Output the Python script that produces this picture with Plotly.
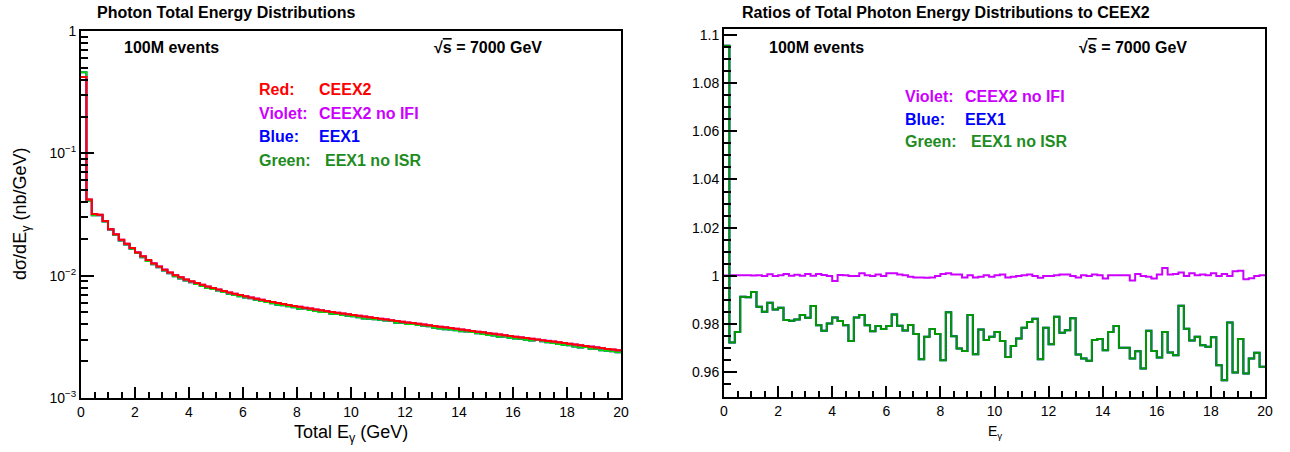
import numpy as np
import plotly.graph_objects as go

# ---------------- data ----------------
bin_lo, bin_hi, n_bins = 0.0, 20.0, 100

# CEEX2 total photon energy distribution dsigma/dE (nb/GeV), per 0.2 GeV bin
red_ceex2 = [
    0.420, 0.0420, 0.0319, 0.0315, 0.0280, 0.0240, 0.0218, 0.0197, 0.0182, 0.0168,
    0.0155, 0.0144, 0.0134, 0.0126, 0.0119, 0.0112, 0.0106, 0.0101, 0.0097, 0.0093,
    0.00900, 0.00870, 0.00842, 0.00816, 0.00792, 0.00770, 0.00749, 0.00729, 0.00711, 0.00694,
    0.00678, 0.00663, 0.00649, 0.00635, 0.00622, 0.00610, 0.00598, 0.00587, 0.00576, 0.00566,
    0.00556, 0.00547, 0.00538, 0.00529, 0.00521, 0.00513, 0.00505, 0.00497, 0.00490, 0.00483,
    0.00476, 0.00470, 0.00463, 0.00457, 0.00451, 0.00445, 0.00439, 0.00433, 0.00427, 0.00421,
    0.00415, 0.00410, 0.00404, 0.00399, 0.00393, 0.00388, 0.00383, 0.00378, 0.00373, 0.00368,
    0.00363, 0.00358, 0.00353, 0.00348, 0.00344, 0.00339, 0.00335, 0.00330, 0.00326, 0.00321,
    0.00317, 0.00313, 0.00309, 0.00305, 0.00301, 0.00297, 0.00293, 0.00289, 0.00285, 0.00281,
    0.00277, 0.00274, 0.00270, 0.00266, 0.00263, 0.00259, 0.00256, 0.00252, 0.00249, 0.00246,
]

# ratio CEEX2 no IFI / CEEX2
ratio_violet = [
    1.0002, 1.0003, 1.0003, 1.0003, 1.0003, 1.0002, 1.0003, 1.0000, 1.0007, 1.0000,
    1.0003, 1.0008, 1.0001, 1.0005, 1.0001, 1.0008, 1.0001, 1.0008, 1.0004, 1.0000,
    0.9979, 1.0004, 1.0003, 1.0000, 1.0000, 1.0011, 1.0003, 1.0000, 1.0006, 1.0000,
    1.0011, 1.0011, 1.0006, 1.0003, 0.9997, 0.9994, 0.9994, 0.9992, 0.9994, 1.0000,
    1.0008, 1.0011, 1.0006, 1.0006, 0.9994, 1.0003, 0.9994, 0.9997, 1.0003, 0.9997,
    1.0003, 1.0006, 0.9994, 0.9997, 1.0000, 1.0003, 1.0006, 1.0000, 0.9992, 1.0000,
    1.0000, 1.0003, 1.0006, 1.0006, 1.0000, 0.9994, 1.0003, 1.0000, 1.0006, 1.0003,
    0.9989, 1.0003, 1.0003, 1.0003, 1.0003, 0.9981, 1.0008, 1.0000, 0.9997, 0.9989,
    1.0006, 1.0033, 1.0006, 1.0008, 1.0014, 1.0000, 1.0011, 1.0003, 1.0006, 1.0003,
    1.0011, 1.0000, 1.0008, 1.0000, 1.0019, 1.0022, 0.9986, 0.9990, 1.0000, 1.0003,
]

# ratio EEX1 no ISR / CEEX2
ratio_green = [
    1.0955, 0.9724, 0.9768, 0.9914, 0.9912, 0.9933, 0.9872, 0.9852, 0.9889, 0.9861,
    0.9868, 0.9817, 0.9814, 0.9819, 0.9838, 0.9827, 0.9875, 0.9796, 0.9773, 0.9803,
    0.9828, 0.9813, 0.9796, 0.9730, 0.9828, 0.9838, 0.9796, 0.9771, 0.9792, 0.9780,
    0.9792, 0.9840, 0.9793, 0.9774, 0.9797, 0.9759, 0.9655, 0.9748, 0.9780, 0.9759,
    0.9650, 0.9849, 0.9750, 0.9699, 0.9689, 0.9838, 0.9675, 0.9778, 0.9734, 0.9748,
    0.9768, 0.9730, 0.9664, 0.9709, 0.9741, 0.9785, 0.9809, 0.9822, 0.9655, 0.9785,
    0.9717, 0.9831, 0.9764, 0.9775, 0.9825, 0.9674, 0.9658, 0.9648, 0.9734, 0.9739,
    0.9692, 0.9768, 0.9792, 0.9702, 0.9702, 0.9658, 0.9688, 0.9616, 0.9773, 0.9689,
    0.9662, 0.9768, 0.9683, 0.9671, 0.9876, 0.9781, 0.9732, 0.9748, 0.9713, 0.9706,
    0.9746, 0.9630, 0.9567, 0.9807, 0.9600, 0.9739, 0.9595, 0.9658, 0.9681, 0.9623,
]

# ratio EEX1 / CEEX2 (hidden under the green curve)
ratio_blue = list(ratio_green)

x_ticks = [0, 2, 4, 6, 8, 10, 12, 14, 16, 18, 20]
logy_ticks = [1e-3, 1e-2, 1e-1, 1]
logy_labels = ["10<sup>\u22123</sup>", "10<sup>\u22122</sup>", "10<sup>\u22121</sup>", "1"]
ratio_ticks = [0.96, 0.98, 1.0, 1.02, 1.04, 1.06, 1.08, 1.1]
ratio_labels = ["0.96", "0.98", "1", "1.02", "1.04", "1.06", "1.08", "1.1"]

# ---------------- helpers ----------------
edges = np.linspace(bin_lo, bin_hi, n_bins + 1)


def step(vals):
    v = list(vals)
    return edges, v + [v[-1]]


red = np.array(red_ceex2)
violet = red * np.array(ratio_violet)
blue = red * np.array(ratio_blue)
green = red * np.array(ratio_green)

C_RED = "#FF0000"
C_VIOLET = "#CC00FF"
C_BLUE = "#0000FF"
C_GREEN_L = "#00DD00"
C_GREEN_D = "#009900"
C_GREEN_T = "#1E8C1E"
FONT = "Liberation Sans, Arial, Helvetica, sans-serif"

fig = go.Figure()

# left panel: blue, green, violet, red (red on top)
for vals, col in [(blue, C_BLUE), (green, C_GREEN_L), (violet, C_VIOLET), (red, C_RED)]:
    xs, ys = step(vals)
    fig.add_trace(go.Scatter(x=xs, y=ys, mode="lines", line=dict(color=col, width=2, shape="hv"),
                             xaxis="x", yaxis="y", showlegend=False, hoverinfo="skip"))

# right panel
for vals, col in [(ratio_violet, C_VIOLET), (ratio_blue, C_BLUE), (ratio_green, C_GREEN_D)]:
    xs, ys = step(vals)
    fig.add_trace(go.Scatter(x=xs, y=ys, mode="lines", line=dict(color=col, width=2, shape="hv"),
                             xaxis="x2", yaxis="y2", showlegend=False, hoverinfo="skip"))

W, H = 1290, 452


def px(x):
    return x / W


def py(y):
    return 1 - y / H


axis_common = dict(showline=True, linecolor="black", linewidth=2, mirror=True, ticks="inside",
                   tickcolor="black", tickwidth=2, showgrid=False, zeroline=False, automargin=False,
                   tickfont=dict(family=FONT, size=14, color="black"))

xa = dict(axis_common, range=[bin_lo, bin_hi], tickmode="array", tickvals=x_ticks, ticklen=11,
          minor=dict(tickmode="linear", tick0=0, dtick=0.5, ticks="inside", ticklen=6,
                     tickcolor="black", tickwidth=1.5))

fig.update_layout(
    template="none",
    width=W, height=H, margin=dict(l=0, r=0, t=0, b=0, pad=0), autosize=False,
    paper_bgcolor="white", plot_bgcolor="white", showlegend=False,
    xaxis=dict(xa, domain=[px(81), px(621)], anchor="y"),
    yaxis=dict(axis_common, type="log", range=[-3, 0], domain=[py(398), py(31)], anchor="x",
               tickmode="array", tickvals=logy_ticks, ticktext=logy_labels, ticklen=13,
               minor=dict(tickmode="array",
                          tickvals=[m * 10 ** d for d in (-3, -2, -1) for m in range(2, 10)],
                          ticks="inside", ticklen=7, tickcolor="black", tickwidth=1.5)),
    xaxis2=dict(xa, domain=[px(724), px(1265)], anchor="y2"),
    yaxis2=dict(axis_common, range=[0.9498, 1.1024], domain=[py(397), py(29)], anchor="x2",
                tickmode="array", tickvals=ratio_ticks, ticktext=ratio_labels, ticklen=13,
                minor=dict(tickmode="linear", tick0=0.95, dtick=0.005, ticks="inside", ticklen=7,
                           tickcolor="black", tickwidth=1.5)),
)

ann = []


def text(x, y, s, size=16, color="black", bold=True, xanchor="left", angle=0):
    ann.append(dict(x=px(x), y=py(y), xref="paper", yref="paper", text=(f"<b>{s}</b>" if bold else s),
                    showarrow=False, xanchor=xanchor, yanchor="middle", textangle=angle,
                    font=dict(family=FONT, size=size, color=color)))


# titles
text(95, 12, "Photon Total Energy Distributions", size=16)
text(740, 12, "Ratios of Total Photon Energy Distributions to CEEX2", size=16)

sqrt_s = "\u221A<span style='text-decoration:overline'>s</span> = 7000 GeV"

# left panel texts
text(122, 48, "100M events")
text(432, 48, sqrt_s)
text(257, 90, "Red:", color=C_RED); text(317, 90, "CEEX2", color=C_RED)
text(257, 113, "Violet:", color=C_VIOLET); text(317, 113, "CEEX2 no IFI", color=C_VIOLET)
text(257, 136, "Blue:", color=C_BLUE); text(317, 136, "EEX1", color=C_BLUE)
text(257, 160, "Green:", color=C_GREEN_T); text(323, 160, "EEX1 no ISR", color=C_GREEN_T)

# right panel texts
text(767, 48, "100M events")
text(1077, 48, sqrt_s)
text(903, 97, "Violet:", color=C_VIOLET); text(963, 97, "CEEX2 no IFI", color=C_VIOLET)
text(903, 119, "Blue:", color=C_BLUE); text(963, 119, "EEX1", color=C_BLUE)
text(903, 142, "Green:", color=C_GREEN_T); text(969, 142, "EEX1 no ISR", color=C_GREEN_T)

# axis titles
text(351, 433, "Total E<sub>\u03b3</sub> (GeV)", size=18, bold=False, xanchor="center")
text(995, 432, "E<sub>\u03b3</sub>", size=14, bold=False, xanchor="center")
text(22, 214, "d\u03c3/dE<sub>\u03b3</sub> (nb/GeV)", size=18, bold=False, xanchor="center", angle=-90)

fig.update_layout(annotations=ann)
fig.write_html(
    "out.html",
    config={"displayModeBar": False},
    post_script="document.body.style.margin='0px';document.body.style.overflow='hidden';",
)
